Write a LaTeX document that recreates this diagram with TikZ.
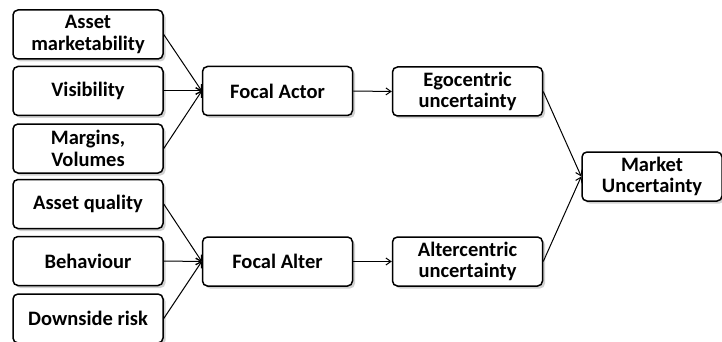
\documentclass[tikz,border=0pt]{standalone}
\usepackage{fontspec}
\setmainfont{Carlito}
\usetikzlibrary{shadows,arrows.meta}
\begin{document}
\begin{tikzpicture}[x=1pt,y=-1pt,
  box/.style={draw=black, line width=1.5pt, rounded corners=5pt, fill=white,
    minimum width=150pt, minimum height=49pt, align=center, inner sep=1pt,
    font=\bfseries\fontsize{20.5}{21.5}\selectfont,
    drop shadow={shadow xshift=2.5pt, shadow yshift=-2.5pt, opacity=0.3, fill=black!60}},
  smallbox/.style={box, minimum width=140pt},
  link/.style={line width=1pt, -{Straight Barb[length=5pt,width=7pt]}}]
\useasboundingbox (0,0) rectangle (722,342);
\begin{scope}
\clip (0,0) rectangle (722,342);
% input factors
\node[box] (am) at (88,34.5) {Asset\\marketability};
\node[box] (vi) at (88,91) {Visibility};
\node[box] (mv) at (88,148.5) {Margins,\\Volumes};
\node[box] (aq) at (88,204) {Asset quality};
\node[box] (be) at (88,261) {Behaviour};
\node[box] (dr) at (88,318.5) {Downside risk};
% focal nodes
\node[box] (fa) at (277.5,91) {Focal Actor};
\node[box] (fl) at (277.5,261.5) {Focal Alter};
% uncertainty nodes
\node[box] (eg) at (467.5,91.5) {Egocentric\\uncertainty};
\node[box] (al) at (467.5,261.5) {Altercentric\\uncertainty};
\node[smallbox] (mu) at (652,176.5) {Market\\Uncertainty};
\end{scope}
% connectors
\draw[link] (am.east) -- (fa.west);
\draw[link] (vi.east) -- (fa.west);
\draw[link] (mv.east) -- (fa.west);
\draw[link] (aq.east) -- (fl.west);
\draw[link] (be.east) -- (fl.west);
\draw[link] (dr.east) -- (fl.west);
\draw[link] (fa.east) -- (eg.west);
\draw[link] (fl.east) -- (al.west);
\draw[link] (eg.east) -- (mu.west);
\draw[link] (al.east) -- (mu.west);
\end{tikzpicture}
\end{document}
